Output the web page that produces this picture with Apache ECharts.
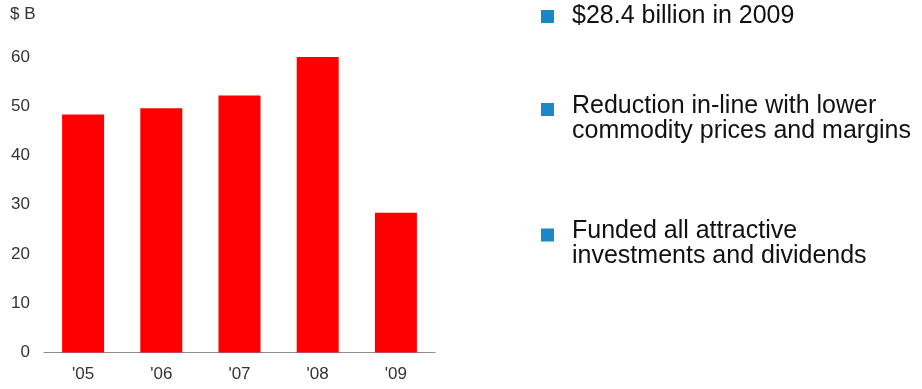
<!DOCTYPE html>
<html><head><meta charset="utf-8">
<script src="https://cdn.jsdelivr.net/npm/echarts@6/dist/echarts.min.js"></script>
<style>html,body{margin:0;padding:0;background:#fff}#c{width:922px;height:389px}</style>
</head><body><div id="c"></div>
<script>
var categories = ["'05", "'06", "'07", "'08", "'09"];
var values = [48.3, 49.6, 52.2, 60.0, 28.4];
var yTicks = [0, 10, 20, 30, 40, 50, 60];
var unitLabel = "$ B";
var bullets = [
  ["$28.4 billion in 2009"],
  ["Reduction in-line with lower", "commodity prices and margins"],
  ["Funded all attractive", "investments and dividends"]
];

var chart = echarts.init(document.getElementById('c'), null, {renderer: 'canvas'});
var FONT = 'Liberation Sans, Arial, sans-serif';
var graphics = [];
var textTops = [3.5, 94, 219];
var squareCenters = [16.5, 109.5, 235];
bullets.forEach(function (lines, i) {
  graphics.push({type: 'rect', left: 541, top: squareCenters[i] - 6.5, shape: {width: 13, height: 13}, style: {fill: '#1a87c7'}});
  graphics.push({type: 'text', left: 572, top: textTops[i], style: {text: lines.join('\n'), font: '25px ' + FONT, fill: '#111', lineHeight: 24.5}});
});
graphics.push({type: 'text', left: 10, top: 6, style: {text: unitLabel, font: '17px ' + FONT, fill: '#333'}});

chart.setOption({
  animation: false,
  backgroundColor: '#fff',
  grid: {left: 44, right: 922 - 435, top: 57, bottom: 389 - 352.5, containLabel: false},
  xAxis: {
    type: 'category', data: categories,
    axisLine: {lineStyle: {color: '#8c8c8c', width: 1}},
    axisTick: {show: false},
    axisLabel: {color: '#333', fontSize: 17, fontFamily: FONT, margin: 13}
  },
  yAxis: {
    type: 'value', min: yTicks[0], max: yTicks[yTicks.length - 1], interval: 10,
    axisLine: {show: false}, axisTick: {show: false}, splitLine: {show: false},
    axisLabel: {color: '#333', fontSize: 17, fontFamily: FONT, margin: 14}
  },
  series: [{
    type: 'bar', data: values, barWidth: 42,
    itemStyle: {color: '#ff0000'}
  }],
  graphic: graphics
});
</script></body></html>
